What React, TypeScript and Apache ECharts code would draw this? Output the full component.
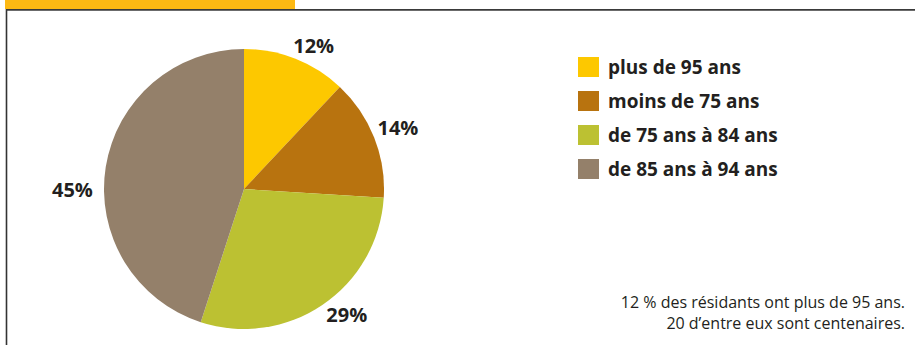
import React, { useEffect, useRef } from "react";
import * as echarts from "echarts";

const categories = ["plus de 95 ans", "moins de 75 ans", "de 75 ans à 84 ans", "de 85 ans à 94 ans"];
const values = [12, 14, 29, 45];
const colors = ["#FDC800", "#B8730F", "#BCC132", "#94806A"];
const noteLines = ["12 % des résidants ont plus de 95 ans.", "20 d’entre eux sont centenaires."];

const FONT = "'Open Sans', 'Noto Sans', sans-serif";
const labelNudges = [
  { dx: -6, dy: -4 },
  { dx: -6, dy: -6 },
  { dx: -2, dy: 1 },
  { dx: -3, dy: 24 },
];

export default function App() {
  const ref = useRef<HTMLDivElement>(null);
  useEffect(() => {
    if (!ref.current) return;
    const chart = echarts.init(ref.current, undefined, { renderer: "svg" });
    chart.setOption({
      animation: false,
      legend: {
        orient: "vertical",
        left: 578,
        top: 57,
        padding: 0,
        itemWidth: 21,
        itemHeight: 20,
        itemGap: 14,
        icon: "rect",
        data: categories,
        textStyle: {
          fontFamily: FONT,
          fontWeight: "bold",
          fontSize: 19,
          color: "#231F20",
          padding: [0, 0, 0, 4],
        },
      },
      graphic: [
        { type: "line", shape: { x1: 6.5, y1: 9, x2: 6.5, y2: 345 }, style: { stroke: "#333", lineWidth: 1.6 } },
        { type: "line", shape: { x1: 6, y1: 9.8, x2: 915, y2: 9.8 }, style: { stroke: "#3a3a3a", lineWidth: 1.8 } },
        { type: "rect", shape: { x: 5, y: 0, width: 290, height: 9 }, style: { fill: "#FDB913" } },
        ...noteLines.map((t, i) => ({
          type: "text",
          right: 10,
          top: 294 + i * 21,
          style: {
            text: t,
            fontFamily: FONT,
            fontSize: 16,
            fill: "#231F20",
          },
        })),
      ],
      series: [
        {
          type: "pie",
          center: [244, 189],
          radius: 140,
          startAngle: 90,
          clockwise: true,
          data: categories.map((c, i) => ({ name: c, value: values[i], itemStyle: { color: colors[i] } })),
          label: {
            show: true,
            position: "outside",
            formatter: (p: any) => p.value + "%",
            fontFamily: FONT,
            fontWeight: "bold",
            fontSize: 20,
            color: "#231F20",
            distanceToLabelLine: 0,
          },
          labelLine: { show: false, length: 10, length2: 0 },
          labelLayout: (p: any) => labelNudges[p.dataIndex] || {},
          emphasis: { disabled: true },
        },
      ],
    });
    return () => chart.dispose();
  }, []);
  return <div ref={ref} style={{ position: "fixed", left: 0, top: 0, width: 915, height: 345, background: "#fff" }} />;
}
